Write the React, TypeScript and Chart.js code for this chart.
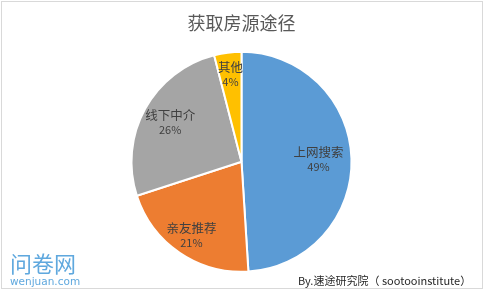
import React, { useEffect, useRef } from 'react';
import { Chart, registerables } from 'chart.js';

Chart.register(...registerables);

const TITLE = '获取房源途径';
const CATEGORIES = ['上网搜索', '亲友推荐', '线下中介', '其他'];
const VALUES = [49, 21, 26, 4];
const COLORS = ['#5B9BD5', '#ED7D31', '#A5A5A5', '#FFC000'];
const LABEL_RADIUS = [0.7, 0.81, 0.74, 0.8];
const WATERMARK = '问卷网';
const WATERMARK_URL = 'wenjuan.com';
const SOURCE = 'By.速途研究院（ sootooinstitute）';

const CJK = '"Noto Sans CJK SC", "Noto Sans", sans-serif';

const framePlugin = {
  id: 'frame',
  beforeDraw(chart: any) {
    const ctx = chart.ctx;
    ctx.save();
    ctx.fillStyle = '#ffffff';
    ctx.fillRect(0, 0, chart.width, chart.height);
    ctx.strokeStyle = '#d9d9d9';
    ctx.lineWidth = 1;
    ctx.strokeRect(1.5, 1.5, 481, 287);
    ctx.restore();
  },
  afterDraw(chart: any) {
    const ctx = chart.ctx;
    ctx.save();
    ctx.textBaseline = 'middle';
    ctx.textAlign = 'left';
    ctx.fillStyle = '#5FA8DE';
    ctx.font = `22px ${CJK}`;
    ctx.fillText(WATERMARK, 10, 264);
    ctx.font = `10.5px "DejaVu Sans", sans-serif`;
    ctx.fillText(WATERMARK_URL, 10, 282);
    ctx.fillStyle = '#262626';
    ctx.font = `11px ${CJK}`;
    ctx.fillText(SOURCE, 298, 281);
    ctx.restore();
  },
};

const labelPlugin = {
  id: 'sliceLabels',
  afterDatasetsDraw(chart: any) {
    const ctx = chart.ctx;
    const meta = chart.getDatasetMeta(0);
    const data = chart.data.datasets[0].data as number[];
    const total = data.reduce((a, b) => a + b, 0);
    ctx.save();
    ctx.textAlign = 'center';
    ctx.textBaseline = 'middle';
    ctx.fillStyle = '#404040';
    meta.data.forEach((arc: any, i: number) => {
      const p = arc.getProps(['x', 'y', 'startAngle', 'endAngle', 'outerRadius'], true);
      const mid = (p.startAngle + p.endAngle) / 2;
      const r = p.outerRadius * LABEL_RADIUS[i];
      const lx = p.x + Math.cos(mid) * r;
      const ly = p.y + Math.sin(mid) * r;
      ctx.font = `12.5px ${CJK}`;
      ctx.fillText(String(chart.data.labels[i]), lx, ly - 7);
      ctx.font = `11px ${CJK}`;
      ctx.fillText(Math.round((data[i] / total) * 100) + '%', lx, ly + 7.5);
    });
    ctx.restore();
  },
};

export default function App() {
  const ref = useRef<HTMLCanvasElement | null>(null);
  useEffect(() => {
    if (!ref.current) return;
    const chart = new Chart(ref.current, {
      type: 'pie',
      data: {
        labels: CATEGORIES,
        datasets: [
          {
            data: VALUES,
            backgroundColor: COLORS,
            borderColor: '#ffffff',
            borderWidth: 2,
            radius: 110,
          } as any,
        ],
      },
      options: {
        responsive: false,
        animation: false,
        devicePixelRatio: 1,
        layout: { padding: { left: 0, right: 2, top: 0, bottom: 19 } },
        plugins: {
          legend: { display: false },
          tooltip: { enabled: false },
          title: {
            display: true,
            text: TITLE,
            color: '#595959',
            font: { size: 18, family: CJK, weight: 'normal' as any },
            padding: { top: 12, bottom: 18 },
          },
        },
      },
      plugins: [framePlugin, labelPlugin],
    });
    return () => chart.destroy();
  }, []);
  return (
    <div style={{ position: 'fixed', left: 0, top: 0, width: 485, height: 291 }}>
      <canvas ref={ref} width={485} height={291} />
    </div>
  );
}
